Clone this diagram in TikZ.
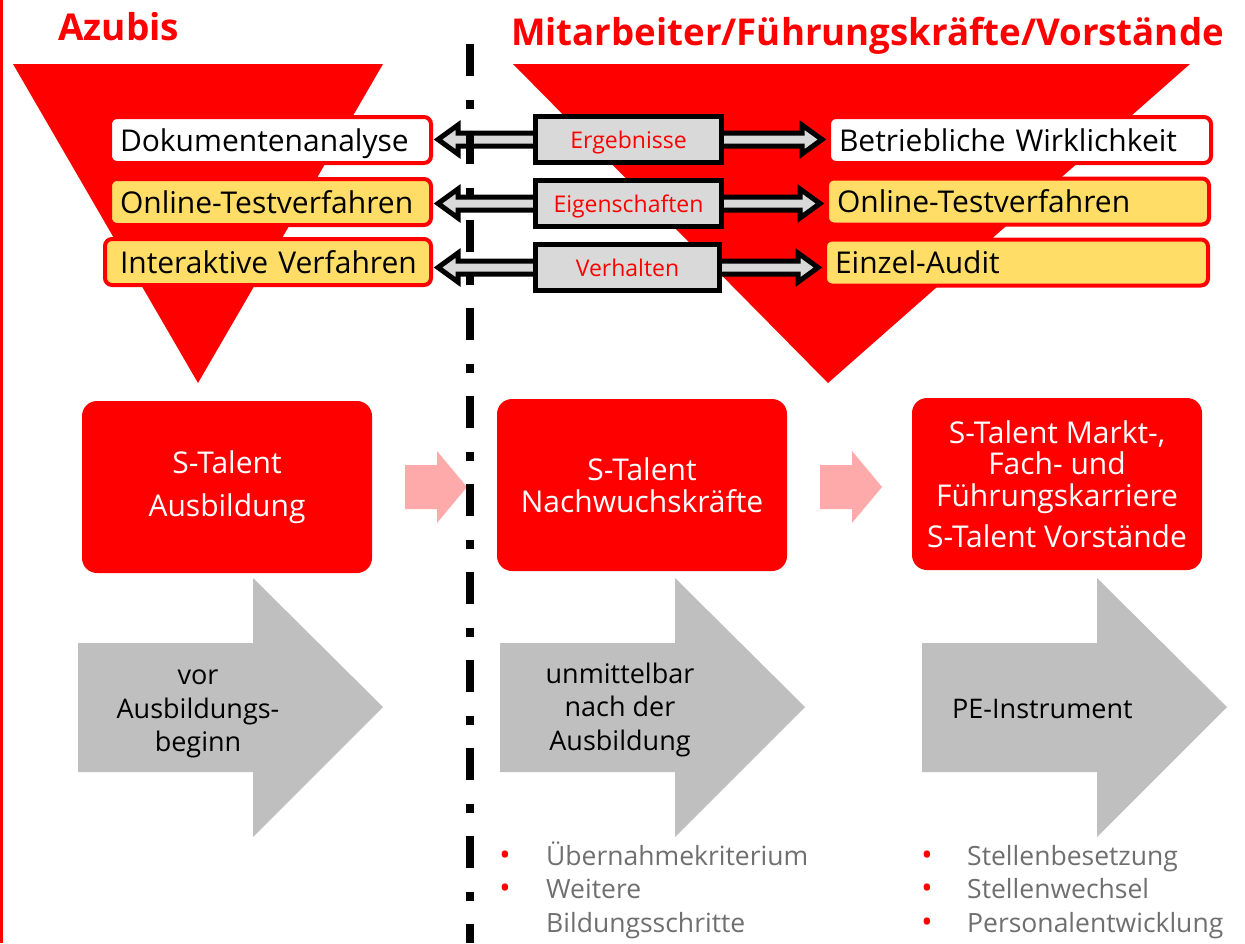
\documentclass[tikz,border=0pt]{standalone}
\usepackage{fontspec}
\setmainfont{Open Sans}
\usetikzlibrary{calc}
\definecolor{sred}{HTML}{FF0000}
\definecolor{syel}{HTML}{FFDD66}
\definecolor{lgray}{HTML}{D9D9D9}
\definecolor{agray}{HTML}{BFBFBF}
\definecolor{spink}{HTML}{FFAAAA}
\definecolor{btext}{HTML}{6F6F6F}
\newcommand{\fsz}[2]{\fontsize{#1pt}{#2pt}\selectfont}
\begin{document}
\begin{tikzpicture}[x=1pt,y=-1pt,
  tbox/.style={draw=sred, line width=4, rounded corners=7, minimum height=46,
    inner xsep=10, align=left, font=\fsz{30}{36}, text=black, text height=22, text depth=0},
  wbox/.style={tbox, fill=white},
  ybox/.style={tbox, fill=syel},
  mbox/.style={draw=black, line width=5, fill=lgray, minimum width=186, minimum height=46,
    inner sep=0, font=\fsz{23}{28}, text=sred, text height=17, text depth=0},
  dblarr/.style={draw=black, fill=lgray, line width=5, line join=miter},
  rbox/.style={fill=sred, rounded corners=15, minimum width=290, minimum height=172,
    text=white, align=center, inner sep=0},
  garrow/.style={fill=agray},
  parrow/.style={fill=spink},
  gtxt/.style={align=center, font=\fsz{27}{33.5}, text=black, inner sep=0},
  btxt/.style={anchor=base west, font=\fsz{26.5}{33}, text=btext, inner sep=0},
  bdot/.style={anchor=base, font=\fsz{30}{33}, text=sred, inner sep=0},
  title/.style={anchor=base west, font=\bfseries\fsz{37}{44}, text=sred, inner sep=0},
  dashdot/.style={line width=8, dash pattern=on 32 off 24 on 9 off 23}
]
\useasboundingbox (0,0) rectangle (1245,943);
% left border
\fill[sred] (0,0) rectangle (3,943);
% titles
\node[title] (az) at (58,40) {Azubis};
\node[title] (ma) at (511,45) {\scalebox{0.99}[1]{Mitarbeiter/Führungskräfte/Vorstände}};
% funnels
\fill[sred] (13,64) -- (383,64) -- (198,383) -- cycle;
\fill[sred] (513,64) -- (1190,64) -- (828,383) -- cycle;
% left boxes
\node[wbox, text width=301] (d1) at (270.5,140) {\mbox{Dokumentenanalyse}};
\node[ybox, text width=301] (d2) at (270.5,202) {\mbox{Online-Testverfahren}};
\node[ybox, text width=296, inner xsep=15] (d3) at (268,262) {\mbox{Interaktive Verfahren}};
% right boxes
\node[wbox, text width=362] (r1) at (1020,140) {\mbox{Betriebliche Wirklichkeit}};
\node[ybox, text width=362] (r2) at (1018,201.5) {\mbox{Online-Testverfahren}};
\node[ybox, text width=363] (r3) at (1016.5,262.5) {\mbox{Einzel-Audit}};
% middle label positions
\coordinate (m1) at (628.5,139.5);
\coordinate (m2) at (628.5,203.5);
\coordinate (m3) at (627.5,267.5);
% double arrows
\foreach \l/\r/\m in {d1/r1/m1, d2/r2/m2, d3/r3/m3}{
  \coordinate (A) at (\l.east |- \m);
  \coordinate (B) at (\r.west |- \m);
  \draw[dblarr] ($(A)+(5,0)$) -- ($(A)+(25,-14.5)$) -- ($(A)+(25,-6.5)$)
     -- ($(B)+(-25,-6.5)$) -- ($(B)+(-25,-14.5)$) -- ($(B)+(-5,0)$)
     -- ($(B)+(-25,14.5)$) -- ($(B)+(-25,6.5)$) -- ($(A)+(25,6.5)$)
     -- ($(A)+(25,14.5)$) -- cycle;
}
\node[mbox] (e1) at (m1) {Ergebnisse};
\node[mbox] (e2) at (m2) {Eigenschaften};
\node[mbox, minimum width=184] (e3) at (m3) {Verhalten};
% red boxes
\node[rbox, font=\fsz{30}{43}] (s1) at (227,487) {S-Talent\\Ausbildung};
\node[rbox, font=\fsz{30}{31.5}] (s2) at (642,485) {S-Talent\\Nachwuchskräfte};
\node[rbox, font=\fsz{30}{31.5}] (s3) at (1057,484) {S-Talent Markt-,\\Fach- und\\Führungskarriere\\[10pt]S-Talent Vorstände};
% pink arrows
\fill[parrow] (405,465) -- (437,465) -- (437,451) -- (467,487) -- (437,523) -- (437,509) -- (405,509) -- cycle;
\fill[parrow] (820,465) -- (852,465) -- (852,451) -- (882,487) -- (852,523) -- (852,509) -- (820,509) -- cycle;
% gray arrows
\foreach \dx in {0,422,844}{
  \fill[garrow] (78+\dx,643) -- (253+\dx,643) -- (253+\dx,578) -- (383+\dx,707)
     -- (253+\dx,837) -- (253+\dx,772) -- (78+\dx,772) -- cycle;
}
\node[gtxt] (g1) at (198,714) {vor\\Ausbildungs-\\beginn};
\node[gtxt] (g2) at (620,709.5) {unmittelbar\\nach der\\Ausbildung};
\node[gtxt, anchor=base west] (g3) at (952,718) {PE-Instrument};
% bullet lists
\node[bdot] (p1) at (505,865) {•};
\node[btxt] (t1) at (546,865) {Übernahmekriterium};
\node[bdot] (p2) at (505,898) {•};
\node[btxt] (t2) at (546,898) {Weitere};
\node[btxt] (t3) at (546,932) {Bildungsschritte};
\node[bdot] (q1) at (927,865) {•};
\node[btxt] (u1) at (967,865) {Stellenbesetzung};
\node[bdot] (q2) at (927,898) {•};
\node[btxt] (u2) at (967,898) {Stellenwechsel};
\node[bdot] (q3) at (927,932) {•};
\node[btxt] (u3) at (967,932) {Personalentwicklung};
% dash-dot separator
\coordinate (vtop) at (470,44);
\coordinate (vbot) at (470,943);
\draw[dashdot] (vtop) -- (vbot);
\end{tikzpicture}
\end{document}
